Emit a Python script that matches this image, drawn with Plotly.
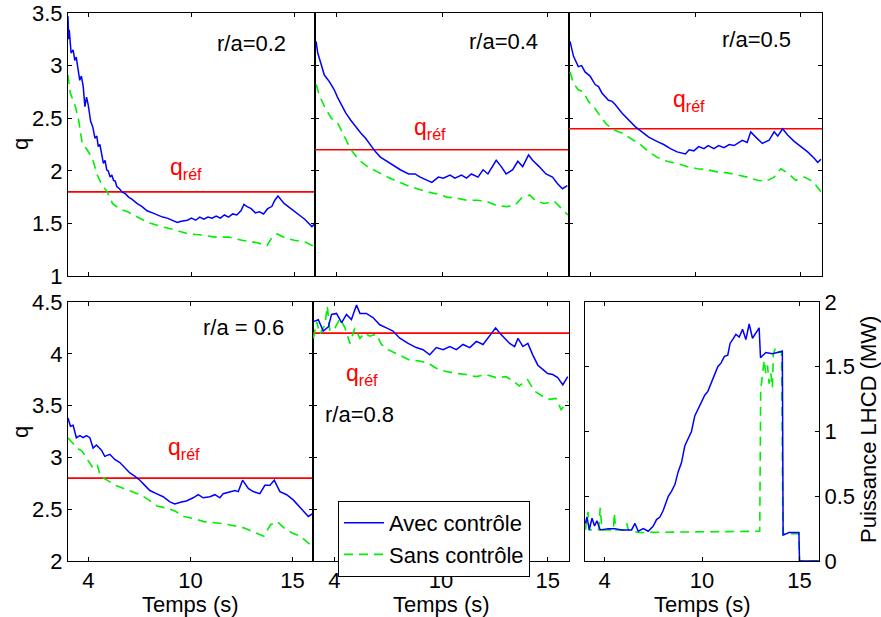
import plotly.graph_objects as go

# ---------------- data ----------------
REF_LABELS = ["r/a=0.2", "r/a=0.4", "r/a=0.5", "r/a = 0.6", "r/a=0.8"]
Q_REF = [1.8, 2.2, 2.4, 2.8, 4.2]
X_TICKVALS = [5, 10, 15]
X_TICKTEXT = ["4", "10", "15"]

T1_AVEC = [4.0, 4.03, 4.06, 4.1, 4.15, 4.25, 4.33, 4.4, 4.49, 4.57, 4.65, 4.74, 4.82, 4.9, 4.98, 5.1, 5.2, 5.31, 5.4, 5.47, 5.55, 5.64, 5.72, 5.8, 5.88, 5.95, 6.05, 6.13, 6.21, 6.3, 6.37, 6.5, 6.62, 6.8, 6.94, 7.1, 7.35, 7.6, 7.84, 8.1, 8.33, 8.6, 8.82, 9.05, 9.31, 9.5, 9.8, 10.0, 10.2, 10.4, 10.6, 10.8, 11.0, 11.2, 11.4, 11.6, 11.8, 12.0, 12.2, 12.4, 12.55, 12.7, 12.9, 13.1, 13.3, 13.5, 13.7, 13.9, 14.05, 14.2, 14.35, 14.5, 14.7, 14.9, 15.1, 15.3, 15.5, 15.7, 15.85, 16.0]
Q1_AVEC = [3.47, 3.25, 3.34, 3.22, 3.12, 3.15, 3.05, 3.08, 2.98, 2.86, 2.9, 2.8, 2.61, 2.7, 2.63, 2.47, 2.42, 2.31, 2.33, 2.23, 2.25, 2.17, 2.07, 2.1, 2.01, 2.0, 1.94, 1.96, 1.91, 1.9, 1.85, 1.83, 1.8, 1.78, 1.75, 1.73, 1.69, 1.66, 1.62, 1.6, 1.58, 1.56, 1.55, 1.53, 1.51, 1.52, 1.53, 1.55, 1.53, 1.56, 1.54, 1.56, 1.55, 1.57, 1.55, 1.58, 1.56, 1.59, 1.58, 1.62, 1.68, 1.66, 1.64, 1.6, 1.61, 1.59, 1.64, 1.66, 1.72, 1.76, 1.72, 1.69, 1.66, 1.63, 1.6, 1.57, 1.54, 1.5, 1.47, 1.5]
T1_SANS = [4.0, 4.11, 4.36, 4.52, 4.69, 4.93, 5.18, 5.42, 5.67, 5.91, 6.16, 6.49, 6.9, 7.38, 7.87, 8.53, 9.18, 9.83, 10.5, 11.14, 11.8, 12.45, 13.1, 13.67, 13.92, 14.17, 14.58, 15.0, 15.55, 15.96]
Q1_SANS = [2.91, 2.74, 2.61, 2.48, 2.26, 2.2, 2.12, 1.96, 1.86, 1.8, 1.69, 1.64, 1.61, 1.56, 1.51, 1.47, 1.44, 1.4, 1.39, 1.37, 1.37, 1.34, 1.32, 1.29, 1.37, 1.4, 1.36, 1.34, 1.32, 1.28]

T2_AVEC = [4.05, 4.13, 4.28, 4.44, 4.67, 4.91, 5.06, 5.22, 5.45, 5.69, 5.92, 6.16, 6.39, 6.63, 6.86, 7.09, 7.41, 7.72, 8.03, 8.42, 8.73, 8.97, 9.28, 9.52, 9.83, 10.06, 10.38, 10.61, 10.92, 11.16, 11.39, 11.7, 11.94, 12.17, 12.56, 12.8, 13.03, 13.34, 13.58, 13.81, 14.09, 14.28, 14.59, 14.91, 15.22, 15.45, 15.69, 15.92]
Q2_AVEC = [3.23, 3.12, 3.02, 2.91, 2.85, 2.77, 2.7, 2.64, 2.55, 2.48, 2.42, 2.36, 2.31, 2.24, 2.18, 2.13, 2.09, 2.05, 2.01, 1.97, 1.97, 1.94, 1.91, 1.89, 1.94, 1.93, 1.96, 1.93, 1.96, 1.93, 1.97, 1.94, 2.01, 1.97, 2.1, 2.04, 1.97, 2.01, 2.09, 2.04, 2.15, 2.1, 2.04, 1.97, 1.94, 1.88, 1.83, 1.86]
T2_SANS = [4.06, 4.22, 4.45, 4.77, 5.08, 5.39, 5.7, 6.09, 6.48, 6.95, 7.42, 7.89, 8.36, 8.83, 9.3, 9.77, 10.23, 10.7, 11.17, 11.64, 12.11, 12.58, 13.05, 13.44, 13.75, 14.14, 14.45, 14.84, 15.31, 15.7, 15.94]
Q2_SANS = [2.82, 2.71, 2.61, 2.5, 2.45, 2.32, 2.2, 2.1, 2.04, 1.99, 1.94, 1.9, 1.86, 1.83, 1.8, 1.78, 1.75, 1.74, 1.72, 1.72, 1.71, 1.67, 1.66, 1.67, 1.74, 1.77, 1.71, 1.69, 1.71, 1.63, 1.58]

T3_AVEC = [4.05, 4.21, 4.44, 4.6, 4.76, 5.0, 5.24, 5.4, 5.56, 5.87, 6.05, 6.19, 6.51, 6.83, 7.14, 7.46, 7.78, 8.17, 8.49, 8.81, 9.13, 9.52, 9.7, 9.92, 10.15, 10.4, 10.6, 10.87, 11.1, 11.35, 11.6, 11.83, 12.22, 12.45, 12.62, 12.86, 13.17, 13.49, 13.73, 13.9, 14.13, 14.37, 14.68, 15.0, 15.32, 15.63, 15.8, 15.95]
Q3_AVEC = [3.23, 3.09, 2.99, 3.0, 2.94, 2.9, 2.82, 2.8, 2.74, 2.67, 2.66, 2.63, 2.55, 2.48, 2.42, 2.37, 2.32, 2.28, 2.25, 2.21, 2.18, 2.16, 2.2, 2.19, 2.23, 2.21, 2.24, 2.21, 2.24, 2.22, 2.25, 2.24, 2.29, 2.27, 2.37, 2.32, 2.26, 2.29, 2.37, 2.33, 2.4, 2.34, 2.28, 2.23, 2.18, 2.12, 2.08, 2.11]
T3_SANS = [4.05, 4.21, 4.44, 4.68, 4.92, 5.24, 5.48, 5.79, 6.11, 6.51, 6.9, 7.38, 7.78, 8.17, 8.65, 9.13, 9.6, 10.08, 10.56, 11.03, 11.51, 11.98, 12.46, 12.94, 13.33, 13.73, 14.05, 14.37, 14.76, 15.16, 15.56, 15.95]
Q3_SANS = [2.94, 2.83, 2.77, 2.75, 2.66, 2.59, 2.52, 2.44, 2.39, 2.36, 2.31, 2.25, 2.18, 2.13, 2.09, 2.07, 2.04, 2.02, 2.01, 1.99, 1.98, 1.96, 1.94, 1.91, 1.9, 1.94, 2.02, 1.98, 1.91, 1.94, 1.9, 1.8]

T4_AVEC = [4.0, 4.12, 4.25, 4.41, 4.58, 4.74, 4.9, 5.07, 5.23, 5.39, 5.64, 5.8, 6.05, 6.29, 6.54, 6.78, 7.03, 7.27, 7.52, 7.76, 8.01, 8.33, 8.66, 8.99, 9.23, 9.56, 9.8, 10.13, 10.38, 10.62, 10.95, 11.2, 11.44, 11.6, 11.93, 12.18, 12.34, 12.55, 12.83, 13.07, 13.4, 13.64, 13.89, 14.1, 14.38, 14.71, 15.03, 15.36, 15.61, 15.77, 16.0]
Q4_AVEC = [3.38, 3.3, 3.31, 3.19, 3.21, 3.19, 3.21, 3.19, 3.09, 3.12, 3.07, 3.01, 3.03, 2.98, 2.95, 2.9, 2.85, 2.82, 2.78, 2.73, 2.68, 2.65, 2.62, 2.57, 2.55, 2.57, 2.58, 2.61, 2.64, 2.61, 2.62, 2.64, 2.61, 2.65, 2.67, 2.68, 2.67, 2.78, 2.7, 2.67, 2.65, 2.73, 2.73, 2.78, 2.67, 2.64, 2.59, 2.52, 2.46, 2.43, 2.46]
T4_SANS = [4.0, 4.2, 4.44, 4.69, 4.93, 5.18, 5.42, 5.58, 5.91, 6.32, 6.73, 7.14, 7.55, 7.95, 8.36, 8.85, 9.26, 9.67, 10.16, 10.65, 11.14, 11.63, 12.12, 12.61, 13.1, 13.59, 13.92, 14.25, 14.58, 14.98, 15.39, 15.96]
Q4_SANS = [3.19, 3.14, 3.09, 3.06, 2.99, 2.91, 2.94, 2.82, 2.78, 2.73, 2.7, 2.67, 2.64, 2.59, 2.53, 2.51, 2.48, 2.43, 2.41, 2.38, 2.37, 2.36, 2.34, 2.32, 2.28, 2.24, 2.35, 2.38, 2.32, 2.27, 2.24, 2.14]

T5_AVEC = [4.02, 4.25, 4.48, 4.72, 4.87, 5.1, 5.34, 5.57, 5.8, 6.04, 6.2, 6.5, 6.81, 7.13, 7.44, 7.75, 8.07, 8.46, 8.84, 9.16, 9.47, 9.78, 10.1, 10.41, 10.72, 11.03, 11.35, 11.66, 11.97, 12.28, 12.56, 12.75, 12.98, 13.22, 13.45, 13.61, 13.84, 14.07, 14.3, 14.54, 14.77, 15.0, 15.24, 15.47, 15.71, 15.94]
Q5_AVEC = [4.31, 4.33, 4.22, 4.26, 4.38, 4.39, 4.3, 4.38, 4.33, 4.47, 4.39, 4.39, 4.35, 4.28, 4.25, 4.22, 4.15, 4.1, 4.06, 4.04, 3.99, 4.06, 4.04, 4.07, 4.04, 4.09, 4.06, 4.12, 4.09, 4.17, 4.25, 4.2, 4.15, 4.1, 4.07, 4.15, 4.07, 4.1, 3.99, 3.89, 3.85, 3.81, 3.8, 3.77, 3.7, 3.78]
T5_SANS = [4.02, 4.17, 4.33, 4.56, 4.67, 4.79, 5.03, 5.26, 5.5, 5.73, 5.96, 6.2, 6.43, 6.66, 6.97, 7.21, 7.52, 7.83, 8.14, 8.53, 9.0, 9.39, 9.78, 10.24, 10.71, 11.18, 11.64, 12.11, 12.58, 13.05, 13.36, 13.67, 14.06, 14.38, 14.77, 15.08, 15.39, 15.63, 15.94]
Q5_SANS = [4.15, 4.31, 4.19, 4.28, 4.46, 4.22, 4.25, 4.34, 4.25, 4.1, 4.25, 4.15, 4.2, 4.17, 4.19, 4.09, 4.04, 4.01, 3.98, 3.94, 3.93, 3.91, 3.86, 3.83, 3.81, 3.8, 3.78, 3.8, 3.77, 3.78, 3.74, 3.69, 3.75, 3.64, 3.59, 3.56, 3.57, 3.46, 3.54]

T6_AVEC = [4.02, 4.1, 4.22, 4.36, 4.49, 4.61, 4.78, 5.2, 5.54, 5.88, 6.39, 6.56, 6.73, 6.99, 7.24, 7.5, 7.67, 7.84, 8.01, 8.1, 8.27, 8.44, 8.61, 8.78, 8.95, 9.12, 9.29, 9.46, 9.63, 9.8, 9.97, 10.14, 10.3, 10.47, 10.64, 10.81, 10.98, 11.15, 11.32, 11.44, 11.57, 11.74, 11.91, 12.08, 12.25, 12.42, 12.59, 12.76, 12.93, 13.0, 13.27, 13.61, 13.95, 14.12, 14.16, 14.46, 14.97, 15.0, 15.99]
P6_AVEC = [0.29, 0.34, 0.24, 0.33, 0.27, 0.31, 0.24, 0.25, 0.25, 0.24, 0.24, 0.29, 0.23, 0.25, 0.23, 0.27, 0.32, 0.34, 0.39, 0.43, 0.5, 0.54, 0.59, 0.69, 0.76, 0.89, 0.94, 1.0, 1.12, 1.17, 1.22, 1.28, 1.31, 1.37, 1.43, 1.5, 1.53, 1.58, 1.59, 1.68, 1.71, 1.75, 1.73, 1.79, 1.71, 1.83, 1.72, 1.76, 1.8, 1.57, 1.61, 1.6, 1.61, 1.62, 0.2, 0.22, 0.22, 0.0, 0.0]
T6_SANS = [4.02, 4.15, 4.22, 4.7, 4.78, 4.87, 5.46, 5.5, 5.58, 6.05, 6.14, 6.22, 6.73, 9.5, 12.96, 13.01, 13.19, 13.27, 13.36, 13.44, 13.53, 13.61, 13.66, 13.78, 13.95, 14.08, 14.15, 14.97, 15.0, 15.99]
P6_SANS = [0.24, 0.38, 0.24, 0.24, 0.41, 0.24, 0.24, 0.37, 0.24, 0.24, 0.29, 0.24, 0.22, 0.225, 0.23, 1.32, 1.55, 1.45, 1.51, 1.37, 1.45, 1.34, 1.6, 1.65, 1.61, 1.62, 0.21, 0.21, 0.0, 0.0]

# ---------------- styling ----------------
FONT = "Liberation Sans, Arial, Helvetica, sans-serif"
FS = 22
BLUE = "#0000ff"
GREEN = "#00ee00"
RED = "#ff0000"
W, H = 881, 617


def dom_x(a, b):
    return [a / W, b / W]


def dom_y(top, bottom):
    return [1 - bottom / H, 1 - top / H]


fig = go.Figure()

panels = [
    (T1_AVEC, Q1_AVEC, T1_SANS, Q1_SANS),
    (T2_AVEC, Q2_AVEC, T2_SANS, Q2_SANS),
    (T3_AVEC, Q3_AVEC, T3_SANS, Q3_SANS),
    (T4_AVEC, Q4_AVEC, T4_SANS, Q4_SANS),
    (T5_AVEC, Q5_AVEC, T5_SANS, Q5_SANS),
    (T6_AVEC, P6_AVEC, T6_SANS, P6_SANS),
]

for i, (ta, qa, ts, qs) in enumerate(panels):
    n = "" if i == 0 else str(i + 1)
    xa, ya = "x" + n, "y" + n
    if i < 5:
        fig.add_trace(go.Scatter(x=[4, 16], y=[Q_REF[i], Q_REF[i]], mode="lines",
                                 xaxis=xa, yaxis=ya, line=dict(color=RED, width=1.6),
                                 showlegend=False, hoverinfo="skip"))
    fig.add_trace(go.Scatter(x=ts, y=qs, mode="lines", xaxis=xa, yaxis=ya,
                             line=dict(color=GREEN, width=1.6, dash="9px,6px"),
                             name="Sans contrôle", showlegend=(i == 4), legendrank=2))
    fig.add_trace(go.Scatter(x=ta, y=qa, mode="lines", xaxis=xa, yaxis=ya,
                             line=dict(color=BLUE, width=1.5),
                             name="Avec contrôle", showlegend=(i == 4), legendrank=1))

x_domains = [dom_x(68, 315), dom_x(315, 569), dom_x(569, 822),
             dom_x(68, 313), dom_x(313, 569), dom_x(585, 819)]
y_domains = [dom_y(13, 276)] * 3 + [dom_y(302, 561)] * 3
y_ranges = [[1, 3.5]] * 3 + [[2, 4.5]] * 2 + [[0, 2]]

tickfont = dict(family=FONT, size=FS, color="black")
layout = dict(
    width=W, height=H,
    margin=dict(l=0, r=0, t=0, b=0, autoexpand=False),
    paper_bgcolor="white", plot_bgcolor="white",
    font=dict(family=FONT, size=FS, color="black"),
    showlegend=True,
    legend=dict(x=338 / W, y=1 - 501 / H, xanchor="left", yanchor="top",
                bgcolor="white", bordercolor="black", borderwidth=1,
                font=dict(family=FONT, size=FS, color="black"),
                tracegroupgap=0, itemwidth=40, traceorder="normal"),
)

for i in range(6):
    n = "" if i == 0 else str(i + 1)
    xa = dict(domain=x_domains[i], range=[4, 16], anchor="y" + n,
              tickvals=X_TICKVALS, ticktext=X_TICKTEXT,
              showticklabels=(i >= 3), ticks="inside", ticklen=4,
              tickcolor="black", showline=True, linecolor="black", linewidth=1,
              mirror="ticks", showgrid=False, zeroline=False, tickfont=tickfont,
              automargin=False)
    ya = dict(domain=y_domains[i], range=y_ranges[i], anchor="x" + n,
              dtick=0.5, tick0=0, ticks="inside", ticklen=4, tickcolor="black",
              showline=True, linecolor="black", linewidth=1, mirror="ticks",
              showgrid=False, zeroline=False, tickfont=tickfont,
              showticklabels=(i in (0, 3, 5)), automargin=False)
    if i == 5:
        ya["side"] = "right"
    layout["xaxis" + n] = xa
    layout["yaxis" + n] = ya

fig.update_layout(**layout)

# axis titles (as annotations for exact placement)
title_font = dict(family=FONT, size=FS, color="black")
for yc in (144, 432):
    fig.add_annotation(x=20 / W, y=1 - yc / H, xref="paper", yref="paper", text="q",
                       textangle=-90, showarrow=False, font=title_font,
                       xanchor="center", yanchor="middle")
for xc in (190, 441, 702):
    fig.add_annotation(x=xc / W, y=1 - 604 / H, xref="paper", yref="paper",
                       text="Temps (s)", showarrow=False, font=title_font,
                       xanchor="center", yanchor="middle")
fig.add_annotation(x=868 / W, y=1 - 430 / H, xref="paper", yref="paper",
                   text="Puissance LHCD (MW)", textangle=-90, showarrow=False,
                   font=title_font, xanchor="center", yanchor="middle")

# panel labels and q_ref labels
label_pos = [(12.9, 3.21), (12.9, 3.23), (12.9, 3.25), (12.6, 4.25), (6.2, 3.41)]
qref_pos = [(9.75, 2.02), (9.45, 2.40), (9.68, 2.67), (9.67, 3.09), (6.28, 3.80)]
for i in range(5):
    n = "" if i == 0 else str(i + 1)
    fig.add_annotation(x=label_pos[i][0], y=label_pos[i][1], xref="x" + n, yref="y" + n,
                       text=REF_LABELS[i], showarrow=False,
                       font=dict(family=FONT, size=FS, color="black"))
    fig.add_annotation(x=qref_pos[i][0], y=qref_pos[i][1], xref="x" + n, yref="y" + n,
                       text="q<sub>réf</sub>", showarrow=False,
                       font=dict(family=FONT, size=FS + 1, color=RED))

fig.write_html(
    "out.html",
    config={"displayModeBar": False},
    post_script="document.body.style.margin='0';document.body.style.overflow='hidden';",
)
